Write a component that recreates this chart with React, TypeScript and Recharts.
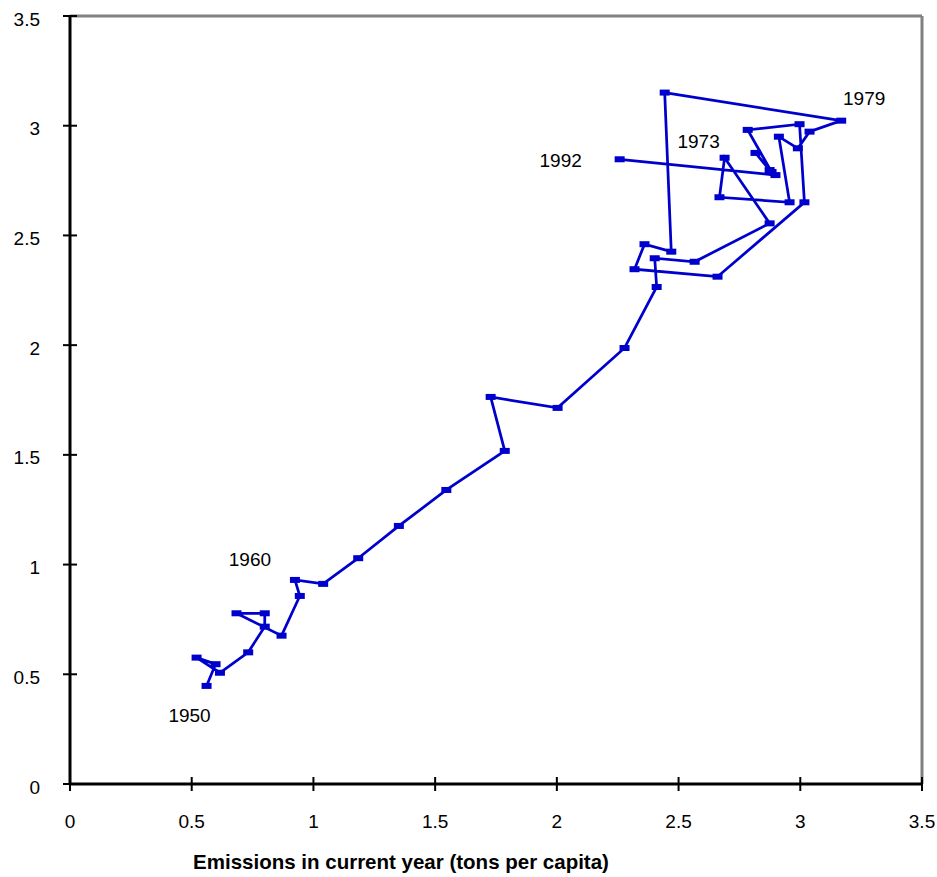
import { ScatterChart, Scatter, XAxis, YAxis, ReferenceLine, LabelList } from 'recharts'

const years = [
  1950, 1951, 1952, 1953, 1954, 1955, 1956, 1957, 1958, 1959,
  1960, 1961, 1962, 1963, 1964, 1965, 1966, 1967, 1968, 1969,
  1970, 1971, 1972, 1973, 1974, 1975, 1976, 1977, 1978, 1979,
  1980, 1981, 1982, 1983, 1984, 1985, 1986, 1987, 1988, 1989,
  1990, 1991, 1992,
]

// emissions in current year (tons per capita)
const currentYear = [
  0.561, 0.598, 0.52, 0.616, 0.732, 0.8, 0.8, 0.684, 0.869, 0.944,
  0.924, 1.04, 1.184, 1.351, 1.546, 1.786, 1.728, 2.003, 2.278, 2.41,
  2.402, 2.566, 2.874, 2.689, 2.668, 2.956, 2.912, 2.99, 3.038, 3.168,
  2.443, 2.47, 2.36, 2.319, 2.66, 3.017, 2.997, 2.784, 2.882, 2.816,
  2.874, 2.898, 2.258,
]

const nextYear = [
  0.447, 0.546, 0.576, 0.507, 0.6, 0.717, 0.778, 0.778, 0.676, 0.857,
  0.93, 0.912, 1.029, 1.176, 1.34, 1.518, 1.764, 1.714, 1.987, 2.265,
  2.396, 2.38, 2.555, 2.854, 2.674, 2.651, 2.95, 2.897, 2.973, 3.023,
  3.151, 2.426, 2.46, 2.346, 2.312, 2.651, 3.007, 2.981, 2.789, 2.876,
  2.798, 2.775, 2.847,
]

const ticks = [0, 0.5, 1, 1.5, 2, 2.5, 3, 3.5]
const labelledYears = [1950, 1960, 1973, 1979, 1992]

const data = years.map((year, i) => ({ year, x: currentYear[i], y: nextYear[i] }))

const BLUE = '#0000cc'
const FONT = '"Liberation Sans", Arial, sans-serif'

// where each year label sits relative to its point
const labelOffset: Record<number, [number, number]> = {
  1950: [-17, 30],
  1960: [-45, -20],
  1973: [-26, -16],
  1979: [23, -22],
  1992: [-59, 1],
}

function Marker(props: any) {
  const { cx, cy } = props
  if (cx == null || cy == null) return null
  return <rect x={cx - 5} y={cy - 3} width={10} height={6} fill={BLUE} />
}

function YearLabel(props: any) {
  const { x, y, width, height, value } = props
  if (!labelledYears.includes(value)) return null
  const [dx, dy] = labelOffset[value]
  const cx = x + (width || 0) / 2
  const cy = y + (height || 0) / 2
  return (
    <text x={cx + dx} y={cy + dy} textAnchor="middle" dominantBaseline="central" fontSize={19} fontFamily={FONT} fill="#000">
      {value}
    </text>
  )
}

// ticks cross the axis line, like the old spreadsheet style
function XTick(props: any) {
  const { x, y, payload } = props
  return (
    <g>
      <line x1={x} x2={x} y1={y - 7} y2={y + 7} stroke="#000" strokeWidth={2} />
      <text x={x} y={y + 37} textAnchor="middle" dominantBaseline="central" fontSize={19} fontFamily={FONT} fill="#000">
        {payload.value}
      </text>
    </g>
  )
}

function YTick(props: any) {
  const { x, y, payload } = props
  return (
    <g>
      <line x1={x - 7} x2={x + 7} y1={y} y2={y} stroke="#000" strokeWidth={2} />
      <text x={x - 30} y={y + 3} textAnchor="end" dominantBaseline="central" fontSize={19} fontFamily={FONT} fill="#000">
        {payload.value}
      </text>
    </g>
  )
}

export default function App() {
  return (
    <div style={{ position: 'absolute', left: 0, top: 0, width: 937, height: 877, background: '#fff' }}>
      <ScatterChart width={937} height={877} margin={{ top: 16, right: 15, left: 10, bottom: 53 }}>
        <ReferenceLine y={3.5} stroke="#808080" strokeWidth={3} />
        <ReferenceLine x={3.5} stroke="#808080" strokeWidth={3} />
        <XAxis
          type="number"
          dataKey="x"
          domain={[0, 3.5]}
          ticks={ticks}
          stroke="#000"
          strokeWidth={3}
          tickLine={false}
          tickSize={0}
          tickMargin={0}
          tick={<XTick />}
          height={40}
          allowDataOverflow
        />
        <YAxis
          type="number"
          dataKey="y"
          domain={[0, 3.5]}
          ticks={ticks}
          stroke="#000"
          strokeWidth={3}
          tickLine={false}
          tickSize={0}
          tickMargin={0}
          tick={<YTick />}
          width={60}
          allowDataOverflow
        />
        <Scatter
          data={data}
          line={{ stroke: BLUE, strokeWidth: 2.75 }}
          lineJointType="linear"
          shape={<Marker />}
          isAnimationActive={false}
        >
          <LabelList dataKey="year" content={<YearLabel />} />
        </Scatter>
      </ScatterChart>
      <div
        style={{
          position: 'absolute',
          left: 401,
          top: 862,
          transform: 'translate(-50%, -50%)',
          fontFamily: FONT,
          fontWeight: 'bold',
          fontSize: 20.5,
          whiteSpace: 'nowrap',
        }}
      >
        Emissions in current year (tons per capita)
      </div>
    </div>
  )
}
